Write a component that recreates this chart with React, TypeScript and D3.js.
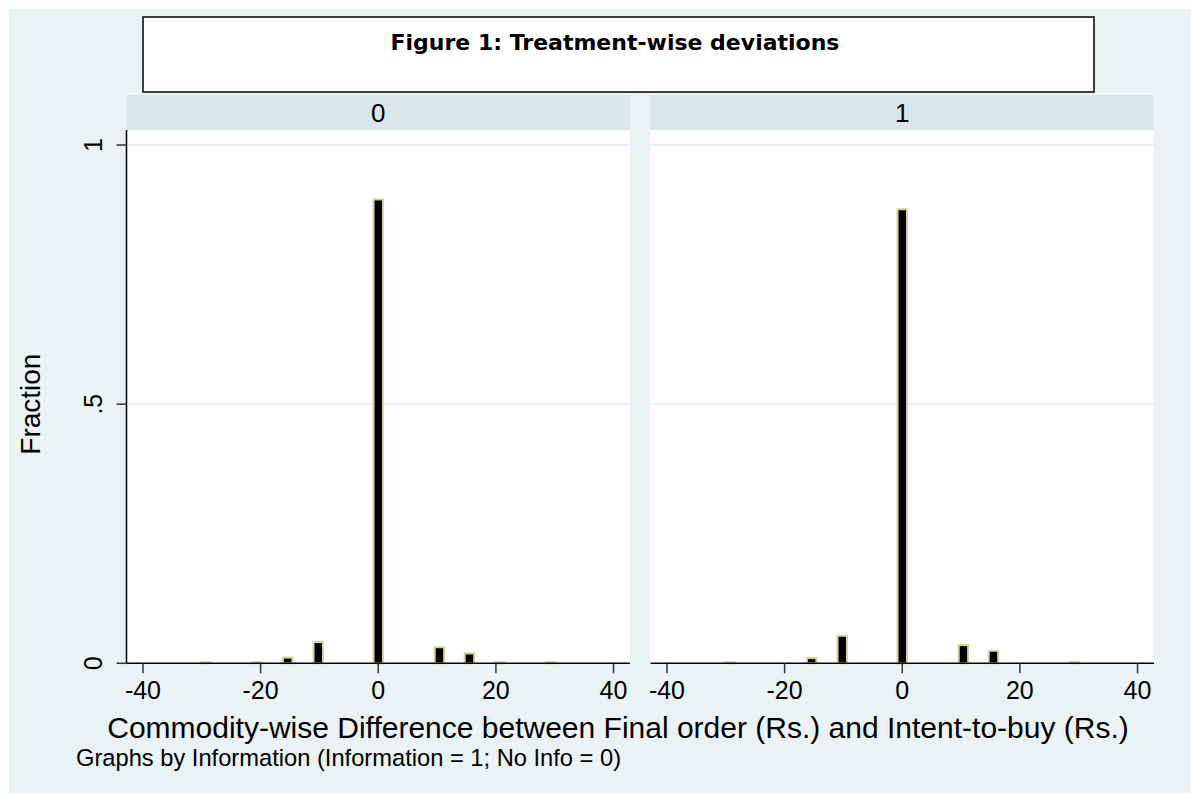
import React, { useEffect } from "react";
import * as d3 from "d3";

// ---- data ----
const binCenters = [-29.3, -20.7, -15.4, -10.2, 0, 10.4, 15.5, 20.6, 29.3];
const fractionNoInfo = [0.002, 0.002, 0.011, 0.041, 0.895, 0.031, 0.019, 0.002, 0.002];
const fractionInfo = [0.002, 0, 0.010, 0.053, 0.876, 0.035, 0.024, 0, 0.002];
const panelLabels = ["0", "1"];
const xTicks = [-40, -20, 0, 20, 40];
const yTicks = [0, 0.5, 1];
const yTickLabels = ["0", ".5", "1"];

const titleText = "Figure 1: Treatment-wise deviations";
const xTitle = "Commodity-wise Difference between Final order (Rs.) and Intent-to-buy (Rs.)";
const yTitle = "Fraction";
const note = "Graphs by Information (Information = 1; No Info = 0)";

const W = 1191;
const H = 794;
const FONT = "'Liberation Sans', Arial, sans-serif";
const BG = "#EAF2F3";
const STRIP = "#D9E6EB";
const BAR_OUTLINE = "#D6CF9E";
const BIN_WIDTH = 1.6;

export default function App() {
  useEffect(() => {
    document.body.style.margin = "0";
  }, []);

  const plotTop = 130;
  const stripTop = 95;
  const y = d3.scaleLinear().domain([0, 1]).range([663.3, 145]);
  const panels = [
    { label: panelLabels[0], values: fractionNoInfo, x: d3.scaleLinear().domain([-42.8, 42.8]).range([126.5, 630]) },
    { label: panelLabels[1], values: fractionInfo, x: d3.scaleLinear().domain([-42.8, 42.8]).range([650.5, 1154]) },
  ];
  const y0 = y(0);

  return (
    <svg width={W} height={H} style={{ display: "block" }} fontFamily={FONT}>
      <rect x={0} y={0} width={W} height={H} fill="#ffffff" />
      <rect x={9} y={9} width={W - 9} height={784} fill={BG} />
      {/* title box */}
      <rect x={143} y={17} width={951} height={75} fill="#ffffff" stroke="#000" strokeWidth={1.5} />
      <text x={615} y={50} textAnchor="middle" fontFamily="'DejaVu Sans', sans-serif" fontWeight="bold" fontSize={22}>
        {titleText}
      </text>
      {panels.map((p, pi) => {
        const [x0, x1] = p.x.range();
        return (
          <g key={pi}>
            <rect x={x0} y={stripTop} width={x1 - x0} height={plotTop - stripTop} fill={STRIP} />
            <text x={(x0 + x1) / 2} y={122} textAnchor="middle" fontSize={26}>
              {p.label}
            </text>
            <rect x={x0} y={plotTop} width={x1 - x0} height={y0 - plotTop} fill="#ffffff" />
            {yTicks.filter((t) => t > 0).map((t) => (
              <line key={t} x1={x0} x2={x1} y1={y(t)} y2={y(t)} stroke={BG} strokeWidth={2} />
            ))}
            {binCenters.map((c, i) => {
              const v = p.values[i];
              if (v <= 0) return null;
              const bx = p.x(c - BIN_WIDTH / 2);
              const bw = p.x(c + BIN_WIDTH / 2) - bx;
              return (
                <rect
                  key={i}
                  x={bx}
                  y={y(v)}
                  width={bw}
                  height={y0 - y(v)}
                  fill="#000"
                  stroke={BAR_OUTLINE}
                  strokeWidth={2}
                />
              );
            })}
            <line x1={x0} x2={x1} y1={y0} y2={y0} stroke="#000" strokeWidth={1.5} />
            {xTicks.map((t) => (
              <g key={t}>
                <line x1={p.x(t)} x2={p.x(t)} y1={y0} y2={y0 + 10} stroke="#333" strokeWidth={1.5} />
                <text x={p.x(t)} y={y0 + 36} textAnchor="middle" fontSize={25}>
                  {t}
                </text>
              </g>
            ))}
            {pi === 0 && (
              <g>
                <line x1={x0} x2={x0} y1={plotTop} y2={y0} stroke="#000" strokeWidth={1.5} />
                {yTicks.map((t, ti) => (
                  <g key={t}>
                    <line x1={x0 - 10} x2={x0} y1={y(t)} y2={y(t)} stroke="#333" strokeWidth={1.5} />
                    <text
                      transform={`translate(${x0 - 25},${y(t)}) rotate(-90)`}
                      textAnchor="middle"
                      fontSize={25}
                    >
                      {yTickLabels[ti]}
                    </text>
                  </g>
                ))}
              </g>
            )}
          </g>
        );
      })}
      <text transform={`translate(40,${y(0.5)}) rotate(-90)`} textAnchor="middle" fontSize={28}>
        {yTitle}
      </text>
      <text x={618} y={738} textAnchor="middle" fontSize={30}>
        {xTitle}
      </text>
      <text x={76} y={766} fontSize={23.7}>
        {note}
      </text>
    </svg>
  );
}
